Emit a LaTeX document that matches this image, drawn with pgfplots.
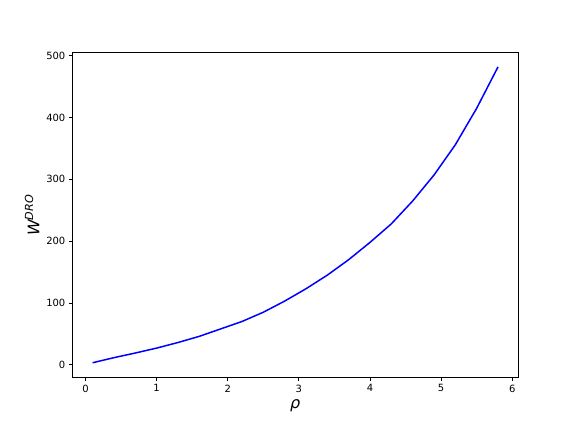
\documentclass[border=0pt]{standalone}
\usepackage{fontspec}
\setmainfont{DejaVu Sans}
\usepackage{pgfplots}
\pgfplotsset{compat=1.18}

\begin{document}
\begin{tikzpicture}
\begin{axis}[
 scale only axis,
 width=446bp,
 height=325bp,
 xmin=-0.185, xmax=6.085,
 ymin=-20.9, ymax=504.9,
 xtick={0,1,2,3,4,5,6},
 ytick={0,100,200,300,400,500},
 axis line style={line width=0.8bp},
 tick align=outside,
 tick pos=left,
 major tick length=3.5bp,
 every tick/.style={black, line width=0.8bp},
 tick label style={font=\fontsize{10}{12}\selectfont},
 /pgf/number format/assume math mode=true,
 xlabel={\fontsize{16}{19}\selectfont\itshape ρ},
 ylabel={\fontsize{16}{19}\selectfont\itshape W\textsuperscript{DRO}},
]

% W^DRO against rho
\addplot[blue, line width=1.5bp] coordinates {
 (0.1,3.3)(0.4,11.5)(0.7,19)(1.0,27)(1.3,36)(1.6,46)(1.9,58)
 (2.2,70)(2.5,85)(2.8,103)(3.1,123)(3.4,145)(3.7,170)(4.0,198)
 (4.3,228)(4.6,265)(4.9,307)(5.2,356)(5.5,415)(5.8,482)
};

\end{axis}
\path ([xshift=-72.3bp,yshift=-54.3bp]current axis.south west)
 rectangle ([xshift=57.7bp,yshift=52.7bp]current axis.north east);
\end{tikzpicture}
\end{document}
